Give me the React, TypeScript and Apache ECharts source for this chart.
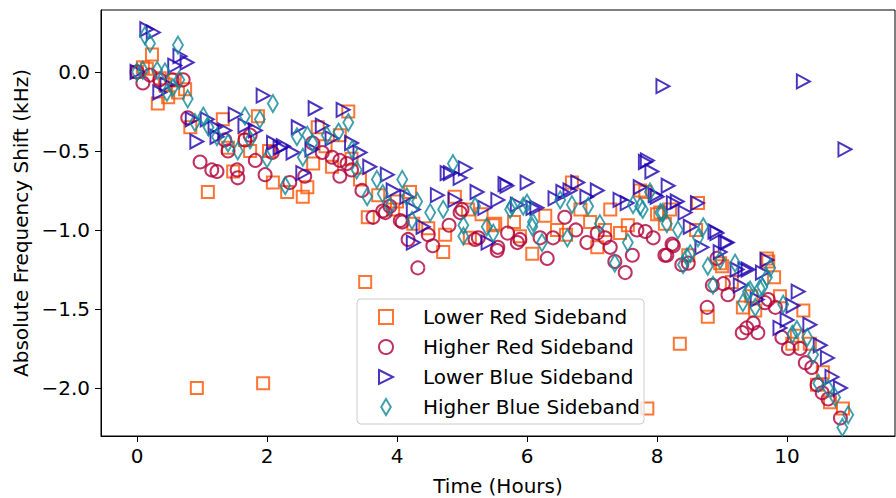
import React, { useEffect, useRef } from "react";
import * as echarts from "echarts";

const seriesNames = [
  "Lower Red Sideband",
  "Higher Red Sideband",
  "Lower Blue Sideband",
  "Higher Blue Sideband",
];

const xTicks = [0, 2, 4, 6, 8, 10];
const yTicks = [-2, -1.5, -1, -0.5, 0];

// [time (hours), shift (kHz)]
const lowerRed: [number, number][] = [
  [0, 0], [0.09, 0.03], [0.15, 0.02], [0.23, 0.11], [0.32, -0.2], [0.35, -0.04], [0.43, -0.08], [0.48, -0.16],
  [0.58, -0.05], [0.63, -0.13], [0.74, -0.11], [0.82, -0.35], [0.92, -2.0], [1.09, -0.76], [1.32, -0.3],
  [1.4, -0.48], [1.48, -0.63], [1.66, -0.43], [1.74, -0.5], [1.86, -0.28], [1.94, -1.97], [2.03, -0.5],
  [2.09, -0.7], [2.31, -0.76], [2.55, -0.79], [2.62, -0.73], [2.71, -0.58], [2.78, -0.35], [2.9, -0.47],
  [3.0, -0.6], [3.12, -0.4], [3.25, -0.25], [3.3, -0.55], [3.43, -0.68], [3.51, -1.33], [3.55, -0.92],
  [3.71, -0.78], [3.94, -0.87], [4.0, -0.82], [4.2, -0.76], [4.25, -0.96], [4.48, -0.99], [4.71, -1.14],
  [4.74, -1.03], [4.89, -0.79], [5.09, -0.87], [5.12, -1.05], [5.3, -0.9], [5.48, -0.97], [5.51, -0.96],
  [5.8, -0.95], [5.89, -1.04], [6.08, -1.15], [6.28, -0.91], [6.46, -1.0], [6.6, -1.03], [6.69, -0.7],
  [6.82, -0.87], [6.97, -0.95], [7.08, -1.11], [7.2, -1.0], [7.28, -0.87], [7.43, -1.02], [7.55, -0.97],
  [7.74, -0.75], [7.82, -0.76], [7.85, -2.13], [8.0, -0.9], [8.05, -0.89], [8.12, -0.96], [8.2, -0.87],
  [8.35, -1.72], [8.48, -1.16], [8.6, -1.0], [8.63, -0.83], [8.78, -1.55], [8.97, -1.21], [9.0, -1.23],
  [9.15, -1.33], [9.32, -1.49], [9.45, -1.42], [9.51, -1.51], [9.69, -1.18], [9.71, -1.2], [9.8, -1.3],
  [9.89, -1.42], [10.08, -1.72], [10.15, -1.67], [10.25, -1.51], [10.35, -1.72], [10.46, -1.98],
  [10.55, -1.9], [10.66, -2.09], [10.86, -2.13],
];

const higherRed: [number, number][] = [
  [0, 0], [0.09, -0.07], [0.2, -0.02], [0.35, -0.05], [0.54, -0.05], [0.71, -0.05], [0.78, -0.29],
  [0.97, -0.57], [1.15, -0.62], [1.23, -0.63], [1.35, -0.43], [1.4, -0.5], [1.54, -0.62], [1.55, -0.67],
  [1.66, -0.43], [1.74, -0.4], [1.82, -0.56], [1.97, -0.65], [2.08, -0.51], [2.35, -0.7], [2.58, -0.66],
  [2.7, -0.45], [2.85, -0.51], [3.0, -0.54], [3.12, -0.56], [3.12, -0.66], [3.23, -0.58], [3.3, -0.62],
  [3.46, -0.75], [3.63, -0.92], [3.78, -0.88], [3.82, -0.89], [3.89, -0.85], [4.05, -0.94], [4.08, -0.95],
  [4.17, -1.06], [4.32, -1.24], [4.48, -1.03], [4.55, -1.1], [4.8, -0.97], [4.97, -0.89], [5.0, -0.87],
  [5.2, -1.06], [5.25, -1.05], [5.54, -1.13], [5.55, -1.11], [5.7, -1.02], [5.85, -1.08], [5.89, -1.06],
  [6.2, -1.05], [6.31, -1.18], [6.4, -1.05], [6.58, -0.92], [6.75, -1.0], [6.92, -1.08], [7.08, -1.02],
  [7.2, -1.05], [7.28, -1.11], [7.35, -1.2], [7.51, -1.27], [7.62, -1.16], [7.69, -1.0], [7.82, -1.01],
  [7.94, -1.05], [8.12, -1.16], [8.15, -1.16], [8.23, -1.09], [8.25, -1.1], [8.38, -1.22], [8.48, -1.21],
  [8.77, -1.49], [8.85, -1.35], [8.92, -1.18], [9.02, -1.34], [9.09, -1.41], [9.31, -1.65], [9.38, -1.62],
  [9.48, -1.59], [9.55, -1.65], [9.66, -1.46], [9.71, -1.44], [9.82, -1.49], [9.92, -1.68], [10.02, -1.75],
  [10.2, -1.75], [10.28, -1.84], [10.38, -1.87], [10.46, -1.98], [10.54, -2.03], [10.63, -2.07],
  [10.82, -2.19],
];

const lowerBlue: [number, number][] = [
  [0, 0], [0.15, 0.27], [0.25, 0.25], [0.35, -0.13], [0.46, -0.08], [0.58, 0.04], [0.66, 0.1], [0.77, 0.06],
  [0.85, -0.3], [0.92, -0.44], [1.08, -0.3], [1.2, -0.35], [1.23, -0.41], [1.35, -0.37], [1.51, -0.27],
  [1.66, -0.34], [1.82, -0.37], [1.94, -0.15], [2.1, -0.45], [2.2, -0.48], [2.25, -0.47], [2.4, -0.51],
  [2.48, -0.35], [2.55, -0.64], [2.69, -0.49], [2.74, -0.23], [2.85, -0.34], [3.0, -0.42], [3.17, -0.24],
  [3.3, -0.45], [3.43, -0.51], [3.58, -0.6], [3.85, -0.65], [3.94, -0.75], [4.15, -0.79], [4.25, -0.87],
  [4.25, -1.08], [4.4, -0.98], [4.62, -0.78], [4.77, -0.64], [4.82, -0.64], [4.89, -0.81], [4.97, -0.67],
  [5.05, -0.61], [5.23, -0.76], [5.35, -0.86], [5.4, -1.08], [5.55, -0.81], [5.66, -0.71], [5.69, -0.72],
  [5.85, -0.84], [6.0, -0.7], [6.09, -0.86], [6.15, -0.86], [6.43, -0.8], [6.55, -0.76], [6.66, -0.75],
  [6.78, -0.7], [6.92, -0.79], [7.08, -0.75], [7.43, -0.81], [7.54, -0.83], [7.74, -0.73], [7.82, -0.57],
  [7.85, -0.56], [7.92, -0.63], [7.97, -0.78], [8.0, -0.79], [8.09, -0.09], [8.17, -0.72], [8.25, -0.83],
  [8.31, -0.82], [8.43, -0.89], [8.51, -0.98], [8.62, -0.83], [8.69, -1.11], [8.89, -1.01], [8.92, -1.02],
  [8.97, -1.14], [9.05, -1.08], [9.08, -1.08], [9.23, -1.25], [9.28, -1.35], [9.35, -1.25], [9.4, -1.25],
  [9.54, -1.44], [9.62, -1.27], [9.69, -1.19], [9.89, -1.62], [10.0, -1.57], [10.09, -1.48], [10.17, -1.39],
  [10.25, -0.06], [10.35, -1.6], [10.51, -1.73], [10.62, -1.81], [10.69, -1.93], [10.82, -2.0],
  [10.89, -0.49],
];

const higherBlue: [number, number][] = [
  [0, 0], [0.09, 0.01], [0.12, 0.23], [0.2, 0.18], [0.31, 0.01], [0.43, 0.0], [0.46, -0.13], [0.55, -0.1],
  [0.63, 0.17], [0.65, -0.05], [0.78, -0.17], [0.89, -0.32], [1.02, -0.28], [1.1, -0.35], [1.23, -0.41],
  [1.4, -0.45], [1.55, -0.5], [1.66, -0.28], [1.74, -0.43], [1.89, -0.3], [2.0, -0.55], [2.09, -0.2],
  [2.28, -0.72], [2.46, -0.41], [2.55, -0.54], [2.62, -0.4], [2.7, -0.45], [2.92, -0.4], [3.1, -0.38],
  [3.25, -0.32], [3.31, -0.49], [3.38, -0.62], [3.54, -0.79], [3.69, -0.68], [3.78, -0.77], [3.89, -0.85],
  [4.08, -0.68], [4.15, -0.79], [4.23, -0.94], [4.31, -0.82], [4.51, -0.89], [4.71, -0.87], [4.86, -0.58],
  [5.02, -0.97], [5.02, -1.04], [5.2, -0.85], [5.38, -0.98], [5.48, -1.02], [5.74, -0.87], [5.77, -0.85],
  [5.94, -0.85], [6.0, -0.83], [6.08, -0.98], [6.09, -0.95], [6.23, -1.08], [6.51, -0.81], [6.62, -1.05],
  [6.69, -0.84], [6.94, -0.85], [7.12, -0.96], [7.35, -1.21], [7.55, -1.08], [7.63, -0.84], [7.74, -0.85],
  [7.78, -0.87], [7.89, -0.76], [8.05, -0.89], [8.08, -0.89], [8.15, -0.96], [8.32, -1.0], [8.4, -1.22],
  [8.46, -1.17], [8.51, -1.15], [8.63, -1.05], [8.71, -0.98], [8.78, -1.23], [8.86, -1.35], [8.97, -1.19],
  [9.2, -1.21], [9.32, -1.46], [9.4, -1.39], [9.43, -1.38], [9.51, -1.49], [9.58, -1.37], [9.62, -1.36],
  [9.69, -1.3], [9.74, -1.24], [9.94, -1.47], [10.08, -1.66], [10.15, -1.63], [10.31, -1.68], [10.4, -1.79],
  [10.48, -1.97], [10.63, -2.0], [10.74, -2.06], [10.85, -2.25], [10.94, -2.17],
];

const colors = ["#ff5200", "#b0003a", "#1e00b0", "#0f8898"];
const FONT = "DejaVu Sans";

export default function App() {
  const ref = useRef<HTMLDivElement>(null);
  useEffect(() => {
    if (!ref.current) return;
    const chart = echarts.init(ref.current, null, { renderer: "svg" });
    const fmt = (v: number) => v.toFixed(1).replace("-", "\u2212");
    const symbols = ["rect", "circle", "path://M0,0L1,0.5L0,1Z", "path://M3,0L6,5L3,10L0,5Z"];
    const sizes: any[] = [12, 13, [13, 14], [10, 17]];
    const legendIcons = [
      "path://M0,0L10,0L10,10L0,10Z",
      "circle",
      "path://M0,0L10,5L0,10Z",
      "path://M3,0L6,5L3,10L0,5Z",
    ];
    const datas = [lowerRed, higherRed, lowerBlue, higherBlue];
    chart.setOption({
      animation: false,
      textStyle: { fontFamily: FONT },
      grid: {
        left: 101,
        right: 1,
        top: 10,
        bottom: 62,
        outerBoundsMode: "none",
        containLabel: false,
        show: true,
        borderColor: "#000",
        borderWidth: 1,
        backgroundColor: "transparent",
      },
      legend: {
        orient: "vertical",
        left: 357,
        top: 299,
        padding: [8, 4, 7, 21],
        itemWidth: 14,
        itemHeight: 16,
        itemGap: 10,
        backgroundColor: "rgba(255,255,255,0.8)",
        borderColor: "#cccccc",
        borderWidth: 1,
        borderRadius: 4,
        textStyle: {
          fontFamily: FONT,
          fontSize: 20,
          lineHeight: 20,
          color: "#000",
          padding: [0, 0, 0, 25],
        },
        data: seriesNames.map((name, i) => ({ name, icon: legendIcons[i] })),
      },
      xAxis: {
        type: "value",
        min: -0.554,
        max: 11.66,
        name: "Time (Hours)",
        nameLocation: "middle",
        nameGap: 40,
        nameTextStyle: { fontFamily: FONT, fontSize: 20, color: "#000" },
        axisLine: { onZero: false, lineStyle: { color: "#000", width: 1 } },
        axisTick: { show: true, length: 6, customValues: xTicks, lineStyle: { color: "#000" } },
        axisLabel: {
          customValues: xTicks,
          margin: 10,
          fontFamily: FONT,
          fontSize: 20,
          color: "#000",
          formatter: (v: number) => String(v),
        },
        splitLine: { show: false },
      },
      yAxis: {
        type: "value",
        min: -2.304,
        max: 0.392,
        name: "Absolute Frequency Shift (kHz)",
        nameLocation: "middle",
        nameGap: 70,
        nameTextStyle: { fontFamily: FONT, fontSize: 20, color: "#000" },
        axisLine: { onZero: false, lineStyle: { color: "#000", width: 1 } },
        axisTick: { show: true, length: 6, customValues: yTicks, lineStyle: { color: "#000" } },
        axisLabel: {
          customValues: yTicks,
          margin: 11,
          fontFamily: FONT,
          fontSize: 20,
          color: "#000",
          formatter: (v: number) => fmt(v),
        },
        splitLine: { show: false },
      },
      series: seriesNames.map((name, i) => ({
        type: "scatter",
        name,
        data: datas[i],
        symbol: symbols[i],
        symbolSize: sizes[i],
        itemStyle: { color: "rgba(255,255,255,0)", borderColor: colors[i], borderWidth: 2 },
        emphasis: { disabled: true },
      })),
    });
    return () => chart.dispose();
  }, []);
  return (
    <div
      ref={ref}
      style={{ position: "absolute", left: 0, top: 0, width: 896, height: 498 }}
    />
  );
}
